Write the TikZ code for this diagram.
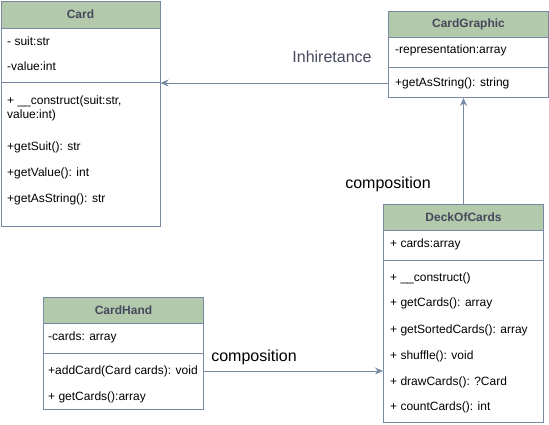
\documentclass[tikz,border=0pt]{standalone}
\usepackage{fontspec}
\setmainfont{Liberation Sans}
\usepackage{tikz}
\usetikzlibrary{arrows.meta, positioning, calc}
\definecolor{headgreen}{HTML}{B2C9AB}
\definecolor{edgeblue}{HTML}{788AA3}
\definecolor{headtext}{HTML}{46495D}

\begin{document}
\begin{tikzpicture}[
  x=1pt, y=-1pt,
  every node/.style={font=\fontsize{12}{14}\selectfont},
  arr/.style={-{Stealth[length=8pt, width=7pt]}, line width=1pt, color=edgeblue},
  classbox/.style={draw=edgeblue, fill=white, line width=1pt, anchor=north west, inner sep=0pt},
  head/.style={draw=edgeblue, fill=headgreen, line width=1pt, anchor=north west, inner sep=0pt,
               font=\fontsize{12}{14}\selectfont\bfseries, text=headtext},
  member/.style={anchor=west, inner sep=0pt, align=left},
  sep/.style={draw=edgeblue, line width=1pt},
  lbl/.style={font=\fontsize{16}{18}\selectfont, inner sep=0pt}
]
\useasboundingbox (0,0) rectangle (549,424);

% Card
\node[classbox, minimum width=159pt, minimum height=225pt] (card) at (0.5,0.5) {};
\node[head, minimum width=159pt, minimum height=27pt] (cardH) at (card.north west) {Card};
\node[member] (cardA1) at (7,41) {- suit:str};
\node[member] (cardA2) at (7,66) {-value:int};
\draw[sep] (card.west |- 0,82) -- (card.east |- 0,82);
\node[member] (cardM1) at (7,108) {+ \_\_construct(suit:str,\\value:int)};
\node[member] (cardM2) at (7,147) {+getSuit(): str};
\node[member] (cardM3) at (7,173) {+getValue(): int};
\node[member] (cardM4) at (7,199) {+getAsString(): str};

% CardGraphic
\node[classbox, minimum width=160pt, minimum height=86pt] (cg) at (388,11) {};
\node[head, minimum width=160pt, minimum height=26pt] (cgH) at (cg.north west) {CardGraphic};
\node[member] (cgA1) at (395,50) {-representation:array};
\draw[sep] (cg.west |- 0,67) -- (cg.east |- 0,67);
\node[member] (cgM1) at (395,83) {+getAsString(): string};

% DeckOfCards
\node[classbox, minimum width=160pt, minimum height=218pt] (deck) at (383,204) {};
\node[head, minimum width=160pt, minimum height=26pt] (deckH) at (deck.north west) {DeckOfCards};
\node[member] (deckA1) at (390,244) {+ cards:array};
\draw[sep] (deck.west |- 0,260) -- (deck.east |- 0,260);
\node[member] (deckM1) at (390,278) {+ \_\_construct()};
\node[member] (deckM2) at (390,303) {+ getCards(): array};
\node[member] (deckM3) at (390,330) {+ getSortedCards(): array};
\node[member] (deckM4) at (390,356) {+ shuffle(): void};
\node[member] (deckM5) at (390,382) {+ drawCards(): ?Card};
\node[member] (deckM6) at (390,407) {+ countCards(): int};

% CardHand
\node[classbox, minimum width=160pt, minimum height=112pt] (hand) at (43,297) {};
\node[head, minimum width=160pt, minimum height=26pt] (handH) at (hand.north west) {CardHand};
\node[member] (handA1) at (48,337) {-cards: array};
\draw[sep] (hand.west |- 0,353) -- (hand.east |- 0,353);
\node[member] (handM1) at (48,371) {+addCard(Card cards): void};
\node[member] (handM2) at (48,397) {+ getCards():array};

% Labels
\node[lbl, text=headtext] (inhLbl) at (332,57) {Inhiretance};
\node[lbl] (compLbl1) at (388,184) {composition};
\node[lbl] (compLbl2) at (254,357) {composition};

% Arrows
\draw[arr] (cg.west |- cgM1) -- (card.east |- cgM1);
\draw[arr] (deck.north) -- (cg.south -| deck.north);
\draw[arr] (hand.east |- handM1) -- (deck.west |- handM1);

\end{tikzpicture}
\end{document}
